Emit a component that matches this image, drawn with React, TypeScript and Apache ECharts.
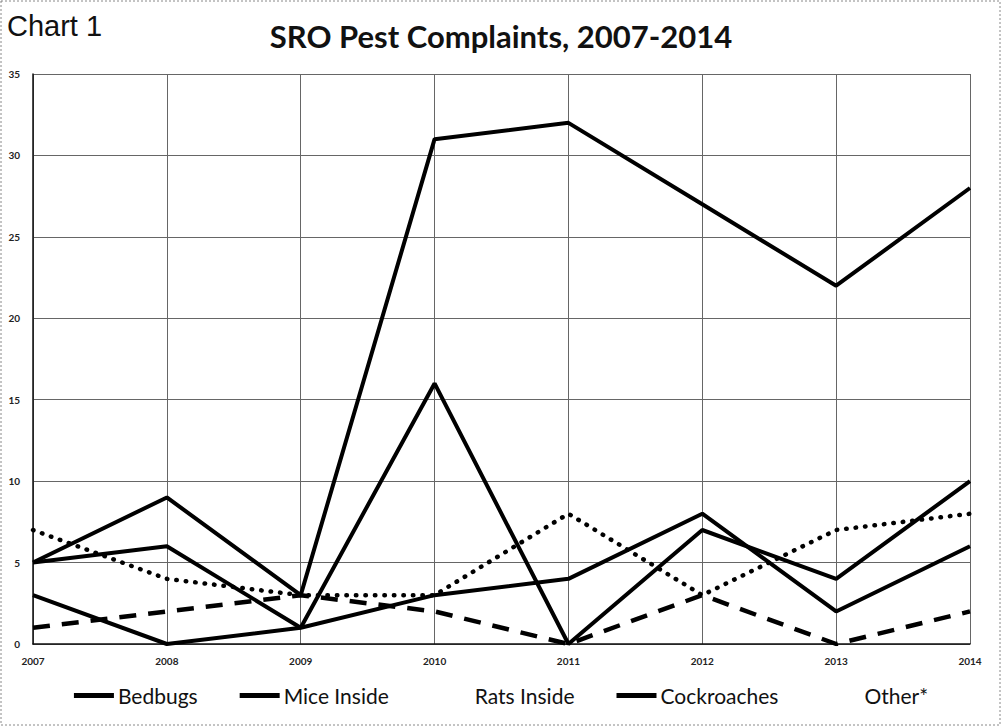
import React, { useEffect, useRef } from "react";
import * as echarts from "echarts";

const years = ["2007", "2008", "2009", "2010", "2011", "2012", "2013", "2014"];
const bedbugs = [5, 9, 3, 31, 32, 27, 22, 28];
const miceInside = [5, 6, 1, 16, 0, 7, 4, 10];
const ratsInside = [7, 4, 3, 3, 8, 3, 7, 8];
const cockroaches = [3, 0, 1, 3, 4, 8, 2, 6];
const other = [1, 2, 3, 2, 0, 3, 0, 2];

export default function App() {
  const ref = useRef<HTMLDivElement>(null);
  useEffect(() => {
    document.body.style.margin = "0";
    const chart = echarts.init(ref.current!, null, { renderer: "svg" });
    const solid = { color: "#000", width: 4, type: "solid" as const };
    chart.setOption({
      animation: false,
      backgroundColor: "#fff",
      title: [
        {
          text: "Chart 1",
          left: 2,
          top: 6,
          textStyle: { fontFamily: "Liberation Sans", fontWeight: "normal", fontSize: 29, color: "#111" },
        },
        {
          text: "SRO Pest Complaints, 2007-2014",
          left: "center",
          top: 15,
          textStyle: { fontFamily: "Lato", fontWeight: "bold", fontSize: 31, color: "#111" },
        },
      ],
      graphic: [
        {
          type: "rect",
          shape: { x: 1, y: 1, width: 999, height: 724 },
          style: { fill: "none", stroke: "#888", lineWidth: 1, lineDash: [2, 2] },
        },
      ],
      legend: {
        bottom: 16,
        left: "center",
        icon: "rect",
        itemWidth: 40,
        itemHeight: 5,
        itemGap: 42,
        textStyle: { fontFamily: "Lato", fontSize: 21, color: "#111", padding: [0, 0, 0, -1] },
        data: [
          { name: "Bedbugs" },
          { name: "Mice Inside" },
          { name: "Rats Inside", itemStyle: { opacity: 0 } },
          { name: "Cockroaches" },
          { name: "Other*", itemStyle: { opacity: 0 } },
        ],
      },
      grid: { left: 33, right: 32, top: 74, bottom: 83 },
      xAxis: {
        type: "category",
        data: years,
        boundaryGap: false,
        axisLine: { lineStyle: { color: "#111", width: 1.5 } },
        axisTick: { show: false },
        axisLabel: { fontFamily: "Lato", fontSize: 10, color: "#222", margin: 12, fontWeight: "bold" },
        splitLine: { show: true, lineStyle: { color: "#666", width: 1 } },
      },
      yAxis: {
        type: "value",
        min: 0,
        max: 35,
        interval: 5,
        axisLine: { show: true, lineStyle: { color: "#111", width: 1.5 } },
        axisTick: { show: false },
        axisLabel: { fontFamily: "Lato", fontSize: 10, color: "#222", margin: 13, fontWeight: "bold" },
        splitLine: { show: true, lineStyle: { color: "#666", width: 1 } },
      },
      series: [
        { name: "Bedbugs", type: "line", data: bedbugs, symbol: "none", lineStyle: solid, itemStyle: { color: "#000" } },
        { name: "Mice Inside", type: "line", data: miceInside, symbol: "none", lineStyle: solid, itemStyle: { color: "#000" } },
        {
          name: "Rats Inside",
          type: "line",
          data: ratsInside,
          symbol: "none",
          lineStyle: { color: "#000", width: 4.5, type: [0.5, 9], cap: "round" },
          itemStyle: { color: "#000" },
        },
        { name: "Cockroaches", type: "line", data: cockroaches, symbol: "none", lineStyle: solid, itemStyle: { color: "#000" } },
        {
          name: "Other*",
          type: "line",
          data: other,
          symbol: "none",
          lineStyle: { color: "#000", width: 4.5, type: [17, 12] },
          itemStyle: { color: "#000" },
        },
      ],
    });
    return () => chart.dispose();
  }, []);
  return <div ref={ref} style={{ position: "absolute", left: 0, top: 0, width: 1002, height: 727 }} />;
}
